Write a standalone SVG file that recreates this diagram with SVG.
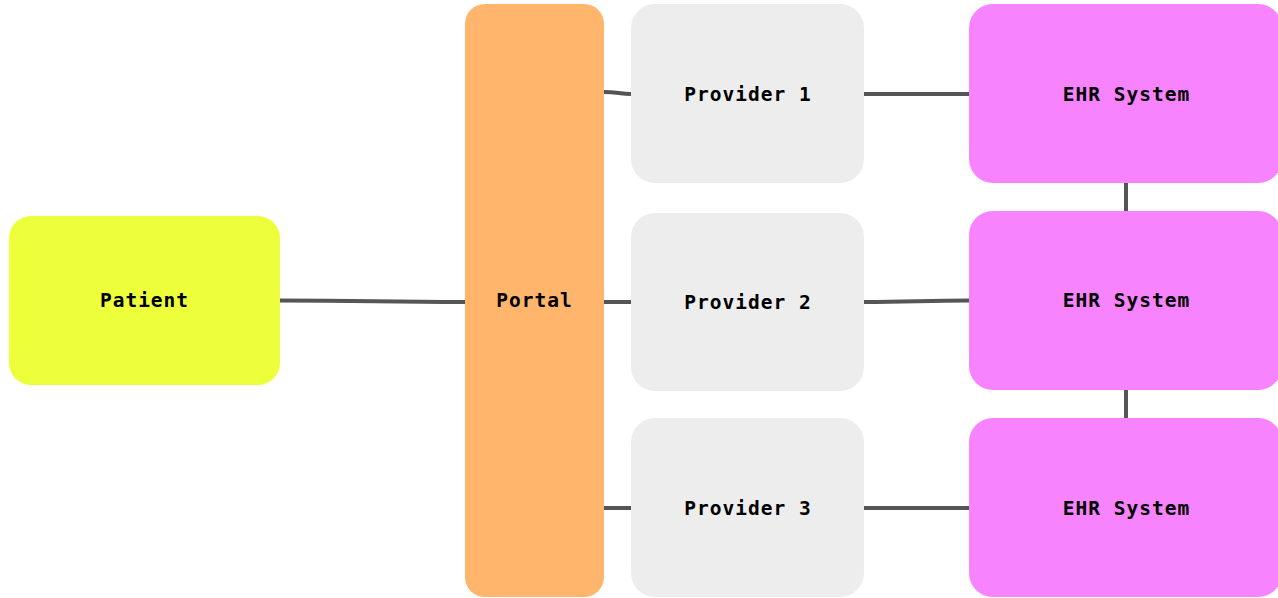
<svg xmlns="http://www.w3.org/2000/svg" width="1278" height="598" viewBox="0 0 1278 598">
<style>
.lbl{font-family:"DejaVu Sans Mono","Liberation Mono",monospace;font-weight:bold;font-size:19.5px;letter-spacing:1px;fill:#000;text-anchor:middle;dominant-baseline:central}
.edge{stroke:#555;stroke-width:4;fill:none}
.patient{fill:#edff3b}
.portal{fill:#ffb56b}
.prov{fill:#ededed}
.ehr{fill:#f883ff}
</style>
<rect width="1278" height="598" fill="#fff"/>
<g id="connectors">
<path class="edge" d="M280,300.5 C370,300.5 380,302 465,302"/>
<path class="edge" d="M604,92 C617,92 620,94 631,94"/>
<path class="edge" d="M604,302 L631,302"/>
<path class="edge" d="M604,508 L631,508"/>
<path class="edge" d="M864,94 L969,94"/>
<path class="edge" d="M864,302 C910,302 925,300.5 969,300.5"/>
<path class="edge" d="M864,508 L969,508"/>
<path class="edge" d="M1126,183 L1126,211"/>
<path class="edge" d="M1126,390 L1126,418"/>
</g>
<g id="patient"><rect class="patient" x="9" y="216" width="271" height="169" rx="22"/><text class="lbl" x="144.5" y="300.5">Patient</text></g>
<g id="portal"><rect class="portal" x="465" y="4" width="139" height="593" rx="20"/><text class="lbl" x="534.5" y="300.5">Portal</text></g>
<g id="provider1"><rect class="prov" x="631" y="4" width="233" height="179" rx="24"/><text class="lbl" x="748" y="94">Provider 1</text></g>
<g id="provider2"><rect class="prov" x="631" y="213" width="233" height="178" rx="24"/><text class="lbl" x="748" y="302">Provider 2</text></g>
<g id="provider3"><rect class="prov" x="631" y="418" width="233" height="179" rx="24"/><text class="lbl" x="748" y="508">Provider 3</text></g>
<g id="ehr1"><rect class="ehr" x="969" y="4" width="313" height="179" rx="24"/><text class="lbl" x="1126.5" y="94">EHR System</text></g>
<g id="ehr2"><rect class="ehr" x="969" y="211" width="313" height="179" rx="24"/><text class="lbl" x="1126.5" y="300.5">EHR System</text></g>
<g id="ehr3"><rect class="ehr" x="969" y="418" width="313" height="179" rx="24"/><text class="lbl" x="1126.5" y="508">EHR System</text></g>
</svg>
